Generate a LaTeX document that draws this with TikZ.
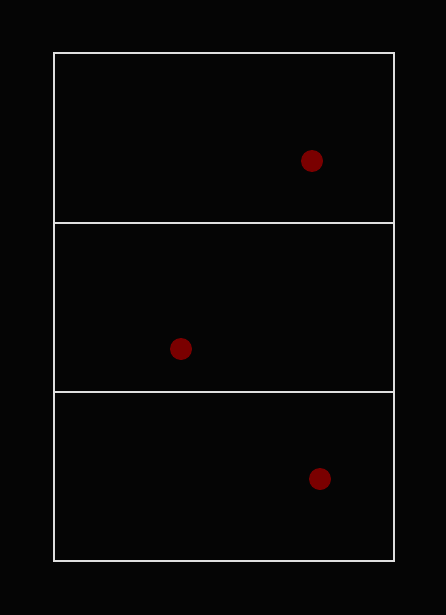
\documentclass[tikz,border=0pt]{standalone}
\definecolor{courtbg}{HTML}{050505}
\definecolor{courtline}{HTML}{E0E0E0}
\definecolor{playerred}{HTML}{7A0000}
\usepackage{tikz}

\begin{document}
\begin{tikzpicture}[x=1pt, y=-1pt,
				line/.style={draw=courtline, line width=2pt},
				player/.style={circle, fill=playerred, minimum size=22pt, inner sep=0pt}
			]
			% Background
			\fill[courtbg] (0, 0) rectangle (446, 615);
			\useasboundingbox (0, 0) rectangle (446, 615);

			% Court outline and zone lines
			\draw[line] (54, 53) rectangle (394, 561);
			\draw[line] (54, 223) -- (394, 223);
			\draw[line] (54, 392) -- (394, 392);

			% Players
			\node[player] (top) at (312, 161) {};
			\node[player] (middle) at (181, 349) {};
			\node[player] (bottom) at (320, 479) {};
		\end{tikzpicture}
\end{document}
